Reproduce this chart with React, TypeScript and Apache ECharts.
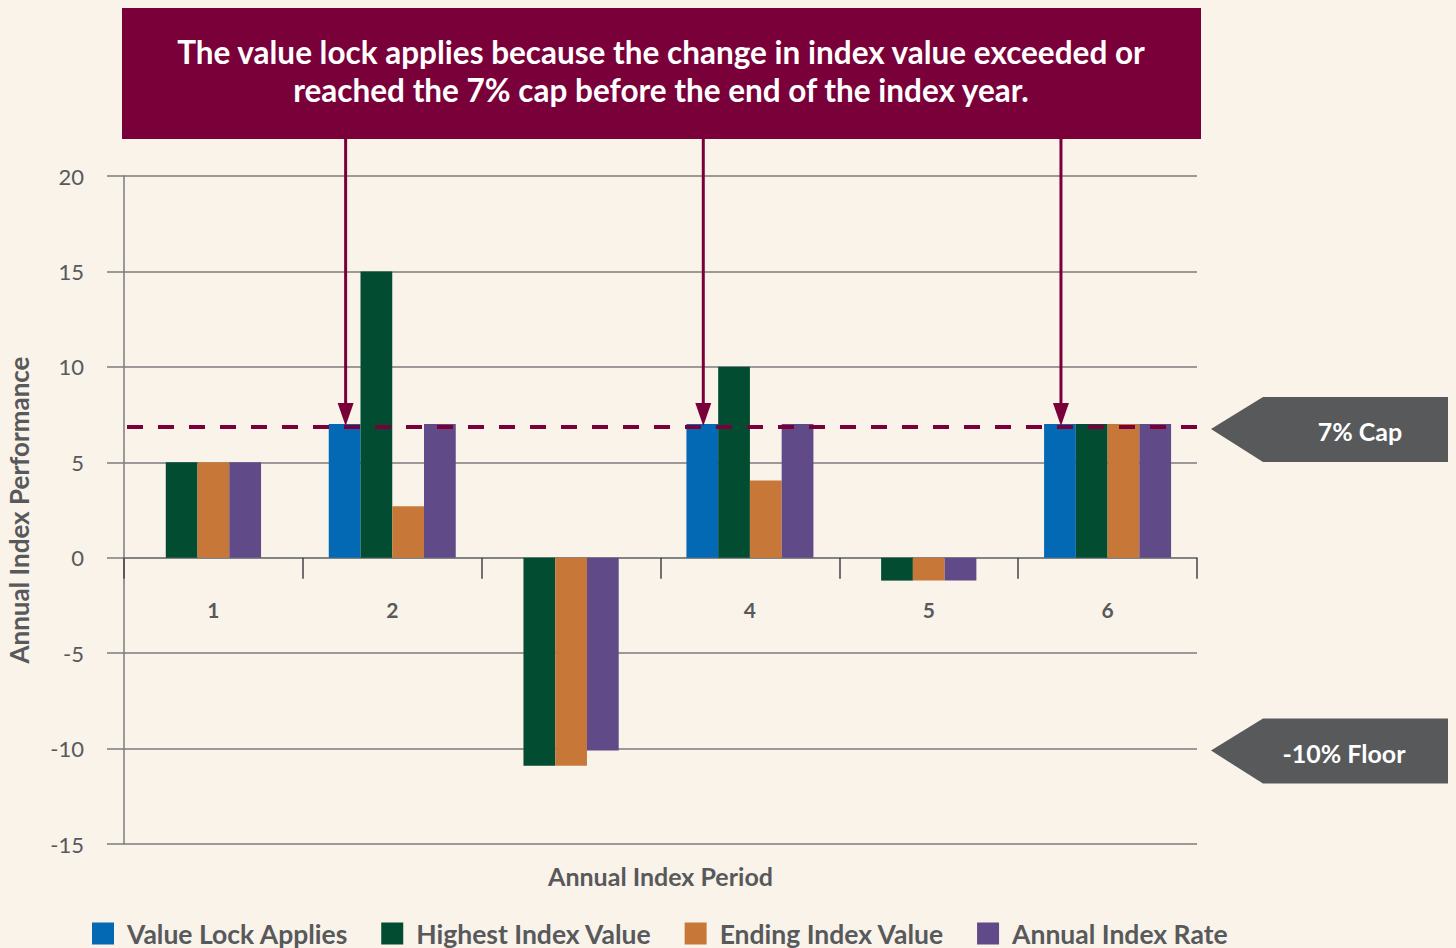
import React, { useEffect, useRef } from 'react';
import * as echarts from 'echarts';

const categories = ['1', '2', '3', '4', '5', '6'];
const seriesNames = ['Value Lock Applies', 'Highest Index Value', 'Ending Index Value', 'Annual Index Rate'];
const valueLockApplies: (number | null)[] = [null, 7, null, 7, null, 7];
const highestIndexValue: (number | null)[] = [5, 15, -10.9, 10, -1.2, 7];
const endingIndexValue: (number | null)[] = [5, 2.7, -10.9, 4.05, -1.2, 7];
const annualIndexRate: (number | null)[] = [5, 7, -10.1, 7, -1.2, 7];
const yMin = -15;
const yMax = 20;
const yInterval = 5;
const capValue = 6.85;
const floorValue = -10;
const capLabel = '7% Cap';
const floorLabel = '-10% Floor';
const annotationLines = [
  'The value lock applies because the change in index value exceeded or',
  'reached the 7% cap before the end of the index year.',
];

const colors = ['#0369b4', '#024d32', '#c77839', '#604b88'];
const MAROON = '#7a0039';
const GRAY = '#58595b';
const BG = '#f9f3ea';
const FONT = 'Lato';
const BAR_W = 31.75;
const GRID_TOP = 176;
const GRID_BOTTOM = 104;
const CHART_H = 948;

export default function App() {
  const ref = useRef<HTMLDivElement>(null);
  useEffect(() => {
    if (!ref.current) return;
    const chart = echarts.init(ref.current, null, { renderer: 'svg' });
    const allValues = [valueLockApplies, highestIndexValue, endingIndexValue, annualIndexRate];
    const hasLock = valueLockApplies.map((v) => v != null);

    const series: any[] = [];
    // 4-bar groups (categories where the value lock applies)
    allValues.forEach((vals, k) => {
      series.push({
        type: 'bar',
        name: seriesNames[k],
        xAxisIndex: 0,
        barWidth: BAR_W,
        barGap: '0%',
        z: 5,
        itemStyle: { color: colors[k] },
        data: vals.map((v, i) => (hasLock[i] ? v : null)),
      });
    });
    // 3-bar groups (no value lock)
    allValues.slice(1).forEach((vals, j) => {
      const k = j + 1;
      series.push({
        type: 'bar',
        name: seriesNames[k],
        xAxisIndex: 1,
        barWidth: BAR_W,
        barGap: '0%',
        z: 5,
        itemStyle: { color: colors[k] },
        data: vals.map((v, i) => (!hasLock[i] ? v : null)),
      });
    });

    // place the category axis on the zero line
    const gridH = CHART_H - GRID_TOP - GRID_BOTTOM;
    const zeroOffset = -(gridH * (0 - yMin)) / (yMax - yMin);

    chart.setOption({
      animation: false,
      backgroundColor: BG,
      textStyle: { fontFamily: FONT },
      grid: { left: 124, right: 259, top: GRID_TOP, bottom: GRID_BOTTOM, outerBoundsMode: 'none', containLabel: false },
      legend: {
        data: seriesNames,
        left: 87,
        top: 915,
        itemWidth: 22,
        itemHeight: 22,
        itemGap: 33,
        icon: 'rect',
        textStyle: { fontFamily: FONT, fontSize: 26.5, fontWeight: 'bold', color: GRAY, padding: [0, 0, 0, 8] },
      },
      xAxis: [
        {
          type: 'category',
          data: categories,
          position: 'bottom',
          offset: zeroOffset,
          name: 'Annual Index Period',
          nameLocation: 'middle',
          nameGap: 306,
          nameTextStyle: { fontFamily: FONT, fontSize: 25, fontWeight: 'bold', color: GRAY },
          axisLine: { onZero: false, lineStyle: { color: '#7d7d7d', width: 1.5 } },
          axisTick: { show: true, length: 21, lineStyle: { color: '#444', width: 1.5 } },
          axisLabel: { margin: 41, fontSize: 21, fontWeight: 'bold', color: GRAY, fontFamily: FONT },
          z: 0,
        },
        {
          type: 'category',
          data: categories,
          show: false,
        },
      ],
      yAxis: {
        type: 'value',
        min: yMin,
        max: yMax,
        interval: yInterval,
        name: 'Annual Index Performance',
        nameLocation: 'middle',
        nameGap: 92,
        nameTextStyle: { fontFamily: FONT, fontSize: 26, fontWeight: 'bold', color: GRAY },
        axisLine: { show: true, lineStyle: { color: '#7d7d7d', width: 1.5 } },
        axisTick: { show: true, length: 17, lineStyle: { color: '#7d7d7d', width: 1.5 } },
        axisLabel: { margin: 40, fontSize: 22, color: GRAY, fontFamily: FONT },
        splitLine: { lineStyle: { color: '#7d7d7d', width: 1.5 } },
      },
      series,
    });

    const capY = chart.convertToPixel({ yAxisIndex: 0 }, capValue) as number;
    const floorY = chart.convertToPixel({ yAxisIndex: 0 }, floorValue) as number;
    const graphic: any[] = [];
    graphic.push({
      type: 'rect',
      z: 100,
      shape: { x: 122, y: 8, width: 1079, height: 131 },
      style: { fill: MAROON },
    });
    annotationLines.forEach((t, i) => {
      graphic.push({
        type: 'text',
        z: 101,
        x: 661,
        y: 52 + i * 38,
        style: {
          text: t,
          fill: '#ffffff',
          font: `bold 31.5px ${FONT}`,
          textAlign: 'center',
          textVerticalAlign: 'middle',
        },
      });
    });
    hasLock.forEach((h, i) => {
      if (!h) return;
      const cx = chart.convertToPixel({ xAxisIndex: 0 }, categories[i]) as number;
      const x = cx - 1.5 * BAR_W + 1;
      graphic.push({
        type: 'line',
        z: 100,
        shape: { x1: x, y1: 139, x2: x, y2: capY - 20 },
        style: { stroke: MAROON, lineWidth: 3 },
      });
      graphic.push({
        type: 'polygon',
        z: 100,
        shape: { points: [[x - 8, capY - 24], [x + 8, capY - 24], [x, capY - 1]] },
        style: { fill: MAROON },
      });
    });
    graphic.push({
      type: 'line',
      z: 99,
      shape: { x1: 127, y1: capY, x2: 1211, y2: capY },
      style: { stroke: MAROON, lineWidth: 4, lineDash: [16, 15] },
    });
    const tag = (y: number, label: string, cx: number) => {
      graphic.push({
        type: 'polygon',
        z: 100,
        shape: {
          points: [[1211, y + 2], [1263, y - 30], [1448, y - 30], [1448, y + 35], [1263, y + 35]],
        },
        style: { fill: GRAY },
      });
      graphic.push({
        type: 'text',
        z: 101,
        x: cx,
        y: y + 4,
        style: {
          text: label,
          fill: '#ffffff',
          font: `bold 25px ${FONT}`,
          textAlign: 'center',
          textVerticalAlign: 'middle',
        },
      });
    };
    tag(capY, capLabel, 1360);
    tag(floorY, floorLabel, 1344);
    chart.setOption({ graphic });

    return () => chart.dispose();
  }, []);
  return (
    <div
      ref={ref}
      style={{ position: 'fixed', left: 0, top: 0, width: 1456, height: 948, background: BG }}
    />
  );
}
